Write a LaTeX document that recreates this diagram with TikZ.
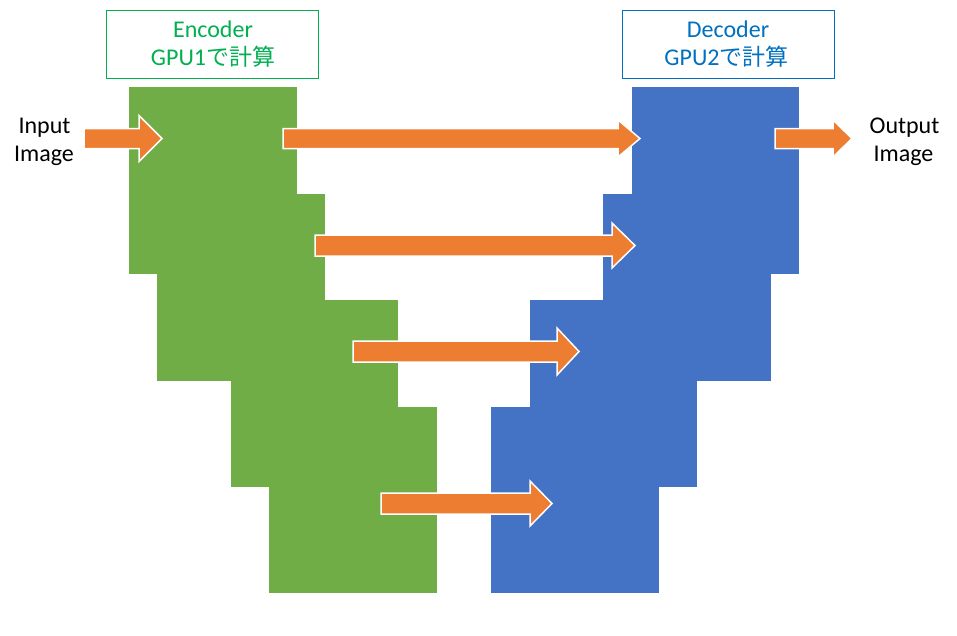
\documentclass[tikz,border=0pt]{standalone}
\usepackage{fontspec}
\setmainfont{Carlito}
\newfontfamily\jpfont{Noto Sans CJK JP}
\definecolor{encg}{HTML}{70AD47}
\definecolor{decb}{HTML}{4472C4}
\definecolor{arrowo}{HTML}{ED7D31}
\definecolor{enctext}{HTML}{00B050}
\definecolor{dectext}{HTML}{0070C0}
\newcommand{\jp}[1]{{\jpfont\fontsize{23}{28}\selectfont #1}}
% left x, head base x, tip x, centre y, shaft half height, head half height
\newcommand{\fatarrow}[6]{%
  \path[fatarr] (#1,#4-#5) -- (#2,#4-#5) -- (#2,#4-#6) -- (#3,#4)
    -- (#2,#4+#6) -- (#2,#4+#5) -- (#1,#4+#5) -- cycle;}
\begin{document}
\begin{tikzpicture}[x=1pt,y=-1pt,
  every node/.style={font=\fontsize{24}{28}\selectfont, inner sep=0pt},
  lbl/.style={anchor=base, text=black},
  titlebox/.style={draw, line width=1pt, minimum width=212pt, minimum height=68pt, fill=white},
  encblk/.style={fill=encg},
  decblk/.style={fill=decb},
  fatarr/.style={fill=arrowo, draw=white, line width=1.5pt, line join=miter}]
\useasboundingbox (0,0) rectangle (957,635);

% encoder blocks
\fill[encblk] (129,87) rectangle (297,274);
\fill[encblk] (157,194) rectangle (325,381);
\fill[encblk] (231,300) rectangle (398,487);
\fill[encblk] (269,407) rectangle (437,593);
% decoder blocks
\fill[decblk] (632,87) rectangle (799,274);
\fill[decblk] (603,194) rectangle (771,381);
\fill[decblk] (530,300) rectangle (697,487);
\fill[decblk] (491,407) rectangle (659,593);

% title boxes
\node[titlebox, draw=enctext] (encbox) at (212.5,44) {};
\node[titlebox, draw=dectext] (decbox) at (728,44) {};
\node[anchor=base, text=enctext] (enc1) at (213,37) {Encoder};
\node[anchor=base, text=enctext] (enc2) at (213,65) {GPU1\jp{で計算}};
\node[anchor=base, text=dectext] (dec1) at (728,37) {Decoder};
\node[anchor=base, text=dectext] (dec2) at (726.5,65) {GPU2\jp{で計算}};

% input / output labels
\node[lbl] (in1) at (44.5,133) {Input};
\node[lbl] (in2) at (44,161) {Image};
\node[lbl] (out1) at (904.5,133) {Output};
\node[lbl] (out2) at (903.5,161) {Image};

% arrows
\fatarrow{84}{139}{162}{138.5}{10}{23}
\fatarrow{283}{618}{640}{138.5}{10}{18.5}
\fatarrow{775}{833}{852}{138.5}{10}{18.5}
\fatarrow{315}{612}{635}{245.5}{10.5}{22.5}
\fatarrow{353}{557}{579}{351.5}{10.5}{23.5}
\fatarrow{381}{530}{552}{503.5}{10.5}{22.5}
\end{tikzpicture}
\end{document}
